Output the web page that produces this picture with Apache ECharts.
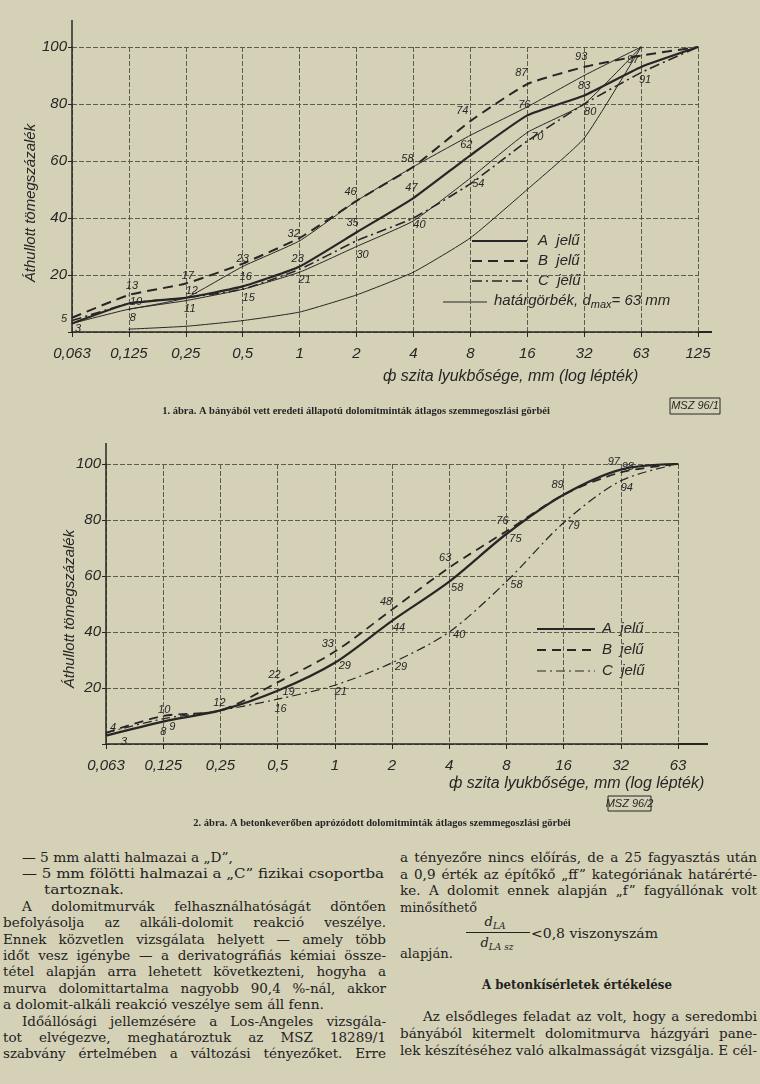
<!DOCTYPE html>
<html><head><meta charset="utf-8">
<script src="https://cdn.jsdelivr.net/npm/echarts/dist/echarts.min.js"></script>
<style>
html,body{margin:0;padding:0;background:#d5d1b6;width:760px;height:1084px;overflow:hidden;position:relative;}
#chart{position:absolute;left:0;top:0;width:760px;height:840px;}
.tl{position:absolute;white-space:pre;line-height:18px;font-family:"DejaVu Serif","Liberation Serif",serif;font-size:13.5px;color:#222;transform-origin:left center;}
.fm{position:absolute;white-space:pre;font-family:"DejaVu Serif","Liberation Serif",serif;color:#222;line-height:14px;}
.fm i{font-style:italic;}
.fm sub{font-size:9px;vertical-align:-3px;font-style:italic;}
</style>
</head><body>
<div id="chart"></div>
<script>
// ---------- DATA ----------
const cats1 = ['0,063','0,125','0,25','0,5','1','2','4','8','16','32','63','125'];
const serA1 = [3, 10, 12, 16, 23, 35, 47, 62, 76, 83, 93, 100];
const serB1 = [5, 13, 17, 24, 33, 46, 58, 74, 87, 93, 97, 100];
const serC1 = [4, 10, 12, 15, 22, 32, 40, 52, 67, 80, 91, 100];
const limUpper1 = [null, 8, 12, 23, 32, 46, 58, 69, 79, 90, 100, null];
const limMid1   = [3, 8, 11, 15, 21, 30, 39, 54, 70, 80, 100, null];
const limLow1   = [null, 1, 2, 4, 7, 13, 21, 33, 50, 68, 100, null];

const cats2 = ['0,063','0,125','0,25','0,5','1','2','4','8','16','32','63'];
const serA2 = [3, 8, 12, 19, 29, 44, 58, 75, 89, 98, 100];
const serB2 = [4, 10, 12, 22, 33, 48, 63, 76, 89, 97, 100];
const serC2 = [4, 9, 12, 16, 21, 29, 40, 58, 79, 94, 100];

const yTickStep = 20;

// ---------- LABEL PLACEMENT (style only: offsets of value labels) ----------
const labA1 = {0:[6,5],3:[3,-9],4:[-2,-8],5:[-4,-9],6:[-2,-10],7:[-4,-10],8:[-3,-10],9:[0,-10]};
const labB1 = {0:[-8,1],1:[3,-9],2:[2,-8],5:[-6,-9],6:[-6,-8],7:[-8,-10],8:[-6,-11],9:[-3,-10],10:[-8,4]};
const labC1 = {1:[7,-2],6:[6,7],9:[6,8],10:[4,7]};
const labU1 = {2:[6,-7],3:[0,-8],4:[-6,-7]};
const labM1 = {1:[4,9],2:[4,8],3:[6,9],4:[5,8],5:[6,8],7:[8,6],8:[10,4]};
const labA2 = {0:[18,6],1:[0,10],2:[-1,-7],3:[11,1],4:[10,3],5:[7,7],6:[8,6],7:[9,5],9:[7,-3]};
const labB2 = {0:[7,-5],1:[1,-6],3:[-3,-7],4:[-7,-8],5:[-6,-8],6:[-4,-10],7:[-4,-10],8:[-6,-10],9:[-7,-10]};
const labC2 = {1:[9,8],3:[3,10],4:[6,7],5:[9,4],6:[10,3],7:[10,3],8:[10,3],9:[6,7]};

const INK = '#262626';
const GRIDC = '#5c5c50';
const HAND = 'Liberation Sans, Arial, sans-serif';
const SERIF = 'Liberation Serif, DejaVu Serif, serif';
const YNAME = 'Áthullott tömegszázalék';

function mkData(vals, labs){
  return vals.map((v,i)=>{
    if (v === null) return '-';
    const off = labs && labs[i];
    if (!off) return v;
    return {value:v, label:{show:true, offset:off}};
  });
}
function line(name, vals, labs, gi, st){
  return {
    type:'line', name, xAxisIndex:gi, yAxisIndex:gi,
    data: mkData(vals, labs),
    symbol:'circle', symbolSize:1, showAllSymbol:true,
    smooth: st.smooth, connectNulls:false,
    lineStyle:{color:INK, width:st.w, type:st.dash||'solid'},
    itemStyle:{color:INK},
    label:{show:false, position:'inside', fontFamily:HAND, fontStyle:'italic', fontSize:11, color:INK},
    emphasis:{disabled:true}, silent:true, z: st.z||2
  };
}
function xAx(gi, data){
  return {type:'category', gridIndex:gi, data, boundaryGap:false,
    axisLine:{lineStyle:{color:INK,width:1.5}},
    axisTick:{show:true, length:5, lineStyle:{color:INK}},
    axisLabel:{interval:0, margin:14, fontFamily:HAND, fontStyle:'italic', fontSize:15, color:INK},
    splitLine:{show:true, interval:0, lineStyle:{color:GRIDC, width:1, type:[5,2]}}};
}
function yAx(gi){
  return {type:'value', gridIndex:gi, min:0, max:100, interval:yTickStep,
    axisLine:{show:true, lineStyle:{color:INK,width:1.5}},
    axisTick:{show:true, length:4, lineStyle:{color:INK}},
    axisLabel:{margin:5, fontFamily:HAND, fontStyle:'italic', fontSize:15, color:INK,
      formatter:v=> v===0 ? '' : String(v)},
    splitLine:{show:true, lineStyle:{color:GRIDC, width:1, type:[5,2]}}};
}
const txt = (x,y,text,o)=>Object.assign({type:'text', x, y, silent:true,
  style:Object.assign({text, fill:INK, font:'italic 15px '+HAND, textVerticalAlign:'middle', verticalAlign:'middle'}, o||{})});
const seg = (x1,y1,x2,y2,w,dash)=>({type:'line', silent:true, shape:{x1,y1,x2,y2},
  style:{stroke:INK, lineWidth:w, lineDash:dash||null}});
const vtxt = (x,y,text)=>({type:'text', x, y, rotation:Math.PI/2, silent:true,
  style:{text, fill:INK, font:'italic 15px '+HAND, textAlign:'center', align:'center', textVerticalAlign:'middle', verticalAlign:'middle'}});

const option = {
  backgroundColor:'transparent',
  animation:false,
  grid:[
    {left:72, width:626, top:47, height:285},
    {left:106, width:572, top:464, height:280}
  ],
  xAxis:[xAx(0,cats1), xAx(1,cats2)],
  yAxis:[yAx(0), yAx(1)],
  series:[
    line('határgörbék felső', limUpper1, labU1, 0, {w:1, smooth:0.15}),
    line('határgörbék közép', limMid1, labM1, 0, {w:1, smooth:0.15}),
    line('határgörbék alsó', limLow1, null, 0, {w:1, smooth:0.15}),
    line('A jelű', serA1, labA1, 0, {w:2.2, smooth:0.15, z:3}),
    line('B jelű', serB1, labB1, 0, {w:2, dash:[10,6], smooth:0.15, z:3}),
    line('C jelű', serC1, labC1, 0, {w:1.6, dash:[10,4,2,4], smooth:0.15, z:3}),
    line('A jelű', serA2, labA2, 1, {w:2.2, smooth:0.3, z:3}),
    line('B jelű', serB2, labB2, 1, {w:1.8, dash:[9,6], smooth:0.3, z:3}),
    line('C jelű', serC2, labC2, 1, {w:1.2, dash:[9,4,2,4], smooth:0.3, z:3})
  ],
  graphic:[
    vtxt(31,203,YNAME), vtxt(70,609,YNAME),
    // axis extensions
    seg(72,20,72,47,1.5), seg(698,332,712,332,2),
    seg(106,443,106,464,1.5), seg(678,744,708,744,2),
    // legend 1
    seg(472,241,527,241,2.2), txt(538,241,'A  jelű'),
    seg(472,261,527,261,2,[10,6]), txt(538,261,'B  jelű'),
    seg(472,281,527,281,1.6,[10,4,2,4]), txt(538,281,'C  jelű'),
    seg(443,302,487,302,1),
    {type:'text', x:494, y:301, silent:true, style:{text:'{n|határgörbék, d}{s|max}{n|= 63 mm}', fill:INK,
      verticalAlign:'middle', textVerticalAlign:'middle',
      rich:{n:{fontFamily:HAND, fontStyle:'italic', fontSize:15, fill:INK, color:INK},
            s:{fontFamily:HAND, fontStyle:'italic', fontSize:11, fill:INK, color:INK, padding:[7,0,0,0]}}}},
    txt(383,377,'ф szita lyukbősége, mm (log lépték)', {font:'italic 16px '+HAND}),
    {type:'rect', silent:true, shape:{x:670,y:398,width:50,height:16}, style:{fill:'none', stroke:INK, lineWidth:1}},
    txt(695,406,'MSZ 96/1', {font:'italic 11px '+HAND, textAlign:'center', align:'center'}),
    txt(356,411,'1. ábra. A bányából vett eredeti állapotú dolomitminták átlagos szemmegoszlási görbéi',
      {font:'bold 10.5px '+SERIF, textAlign:'center', align:'center'}),
    // legend 2
    seg(537,629,595,629,2.2), txt(602,629,'A  jelű'),
    seg(537,650,595,650,1.8,[9,6]), txt(602,650,'B  jelű'),
    seg(537,671,595,671,1.2,[9,4,2,4]), txt(602,671,'C  jelű'),
    txt(449,784,'ф szita lyukbősége, mm (log lépték)', {font:'italic 16px '+HAND}),
    {type:'rect', silent:true, shape:{x:608,y:796,width:43,height:15}, style:{fill:'none', stroke:INK, lineWidth:1}},
    txt(629.5,804,'MSZ 96/2', {font:'italic 11px '+HAND, textAlign:'center', align:'center'}),
    txt(382,823,'2. ábra. A betonkeverőben aprózódott dolomitminták átlagos szemmegoszlási görbéi',
      {font:'bold 10.5px '+SERIF, textAlign:'center', align:'center'})
  ]
};
const chart = echarts.init(document.getElementById('chart'));
chart.setOption(option);

// ---------- BODY TEXT ----------
const leftLines = [
  ['— 5 mm alatti halmazai a „D”,', 22, 857, 233, false],
  ['— 5 mm fölötti halmazai a „C” fizikai csoportba', 22, 873, 384, false],
  ['tartoznak.', 44, 889, 124, false],
  ['A dolomitmurvák felhasználhatóságát döntően', 22, 906, 386, true],
  ['befolyásolja az alkáli-dolomit reakció veszélye.', 3, 922, 386, true],
  ['Ennek közvetlen vizsgálata helyett — amely több', 3, 939, 386, true],
  ['időt vesz igénybe — a derivatográfiás kémiai össze-', 3, 955, 386, true],
  ['tétel alapján arra lehetett következteni, hogyha a', 3, 971, 386, true],
  ['murva dolomittartalma nagyobb 90,4 %-nál, akkor', 3, 988, 386, true],
  ['a dolomit-alkáli reakció veszélye sem áll fenn.', 3, 1004, 324, false],
  ['Időállósági jellemzésére a Los-Angeles vizsgála-', 22, 1021, 386, true],
  ['tot elvégezve, meghatároztuk az MSZ 18289/1', 3, 1037, 386, true],
  ['szabvány értelmében a változási tényezőket. Erre', 3, 1053, 386, true]
];
const rightLines = [
  ['a tényezőre nincs előírás, de a 25 fagyasztás után', 400, 857, 757, true],
  ['a 0,9 érték az építőkő „ff” kategóriának határérté-', 400, 873.5, 757, true],
  ['ke. A dolomit ennek alapján „f” fagyállónak volt', 400, 890, 757, true],
  ['minősíthető', 400, 906.5, 477, false],
  ['alapján.', 400, 953, 453, false],
  ['Az elsődleges feladat az volt, hogy a seredombi', 423, 1016, 757, true],
  ['bányából kitermelt dolomitmurva házgyári pane-', 400, 1033, 757, true],
  ['lek készítéséhez való alkalmasságát vizsgálja. E cél-', 400, 1050, 757, true]
];
function place(L, bold){
  const [t,x,y,end,just] = L;
  const d = document.createElement('div');
  d.className='tl'; d.textContent=t;
  if (bold) d.style.fontWeight='bold';
  d.style.left=x+'px'; d.style.top=(y-9)+'px';
  document.body.appendChild(d);
  const w = d.getBoundingClientRect().width, target = end - x;
  const spaces = (t.match(/ /g)||[]).length;
  if (just && w < target && spaces){
    d.style.wordSpacing = ((target-w)/spaces)+'px';
  } else {
    d.style.transform = 'scaleX('+(target/w)+')';
  }
}
leftLines.forEach(L=>place(L,false));
rightLines.forEach(L=>place(L,false));
place(['A betonkísérletek értékelése', 482, 984, 672, false], true);

// formula
function fm(html, x, y, size){
  const d=document.createElement('div'); d.className='fm'; d.innerHTML=html;
  d.style.fontSize=size+'px'; document.body.appendChild(d);
  const r=d.getBoundingClientRect();
  d.style.left=(x - r.width/2)+'px'; d.style.top=(y - 7)+'px';
  return d;
}
fm('<i>d</i><sub>LA</sub>', 495, 922, 13);
fm('<i>d</i><sub>LA sz</sub>', 497, 943, 13);
const bar=document.createElement('div');
bar.style.cssText='position:absolute;left:466px;top:932px;width:64px;height:1px;background:#222;';
document.body.appendChild(bar);
const rel=document.createElement('div'); rel.className='tl';
rel.textContent='<0,8 viszonyszám'; rel.style.left='531px'; rel.style.top=(933-9)+'px';
document.body.appendChild(rel);
const rw=rel.getBoundingClientRect().width; rel.style.transform='scaleX('+(127/rw)+')';
</script>
</body></html>
